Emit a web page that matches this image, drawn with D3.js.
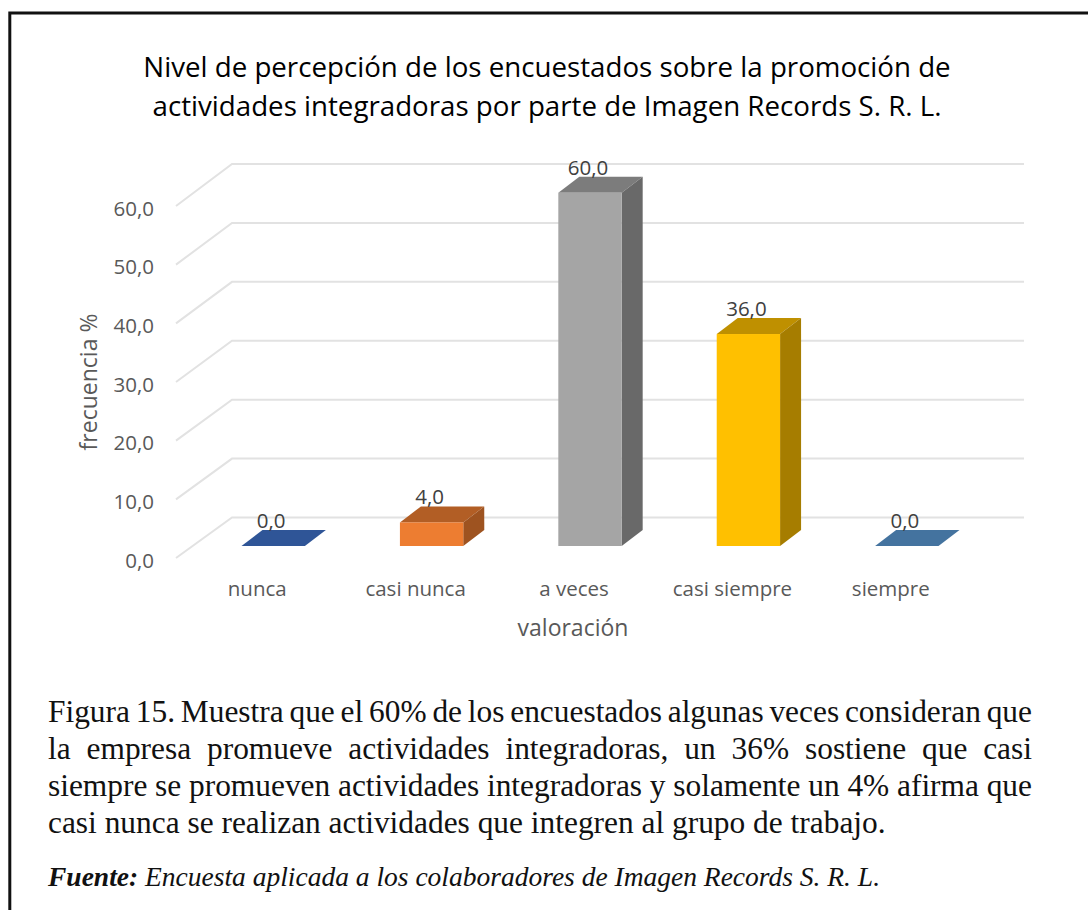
<!DOCTYPE html>
<html>
<head>
<meta charset="utf-8">
<script src="https://cdn.jsdelivr.net/npm/d3@7"></script>
<style>
  html, body { margin: 0; padding: 0; background: #fff; overflow: hidden; }
  .axis path, .axis line { display: none; }
</style>
</head>
<body>
<div id="chart"></div>
<script>
var categories = ["nunca", "casi nunca", "a veces", "casi siempre", "siempre"];
var values = [0, 4, 60, 36, 0];
var yTicks = [0, 10, 20, 30, 40, 50, 60];
var frontColors = ["#2f5597", "#ed7d31", "#a5a5a5", "#ffc000", "#44739f"];
var topColors = ["#2f5597", "#b25e25", "#7c7c7c", "#bf9000", "#44739f"];
var sideColors = ["#264478", "#9e5320", "#696969", "#a67d00", "#3a6288"];
var titleLines = [
  "Nivel de percepción de los encuestados sobre la promoción de",
  "actividades integradoras por parte de Imagen Records S. R. L."
];
var captionLines = [
  "Figura 15. Muestra que el 60% de los encuestados algunas veces consideran que",
  "la empresa promueve actividades integradoras, un 36% sostiene que casi",
  "siempre se promueven actividades integradoras y solamente un 4% afirma que",
  "casi nunca se realizan actividades que integren al grupo de trabajo."
];
var fuenteLabel = "Fuente:";
var fuenteText = " Encuesta aplicada a los colaboradores de Imagen Records S. R. L.";

var chartFont = "'Open Sans', sans-serif";
var serifFont = "'Liberation Serif', serif";
var width = 1088, height = 910;

// 3d offset of the columns
var depthX = 21, depthY = -16;

var svg = d3.select("#chart")
  .append("svg")
    .attr("width", width)
    .attr("height", height)
    .style("display", "block");

// outer frame
svg.append("path")
  .attr("d", "M9.8," + height + "V13H" + width)
  .attr("fill", "none")
  .attr("stroke", "#111")
  .attr("stroke-width", 3);

// scales: one y for the column plane, one for the back wall, one for the wall front edge
var x = d3.scaleBand()
  .domain(categories)
  .range([194, 986])
  .paddingInner(0.6)
  .paddingOuter(0.3);

var xLabel = d3.scaleBand()
  .domain(categories)
  .range([178, 970]);

var y = d3.scaleLinear().domain([0, 60]).range([546, 192.7]);
var yBack = d3.scaleLinear().domain([0, 60]).range([517.5, 164]);
var yWall = d3.scaleLinear().domain([0, 60]).range([558, 206]);

// gridlines
svg.append("g")
  .selectAll("path")
  .data(yTicks)
  .enter()
  .append("path")
    .attr("d", function(d) {
      return "M176," + yWall(d) + "L232," + yBack(d) + "H1024";
    })
    .attr("fill", "none")
    .attr("stroke", "#e2e2e2")
    .attr("stroke-width", 2);

// y axis
var yAxis = svg.append("g")
  .attr("class", "axis")
  .attr("transform", "translate(154,2.5)")
  .call(d3.axisLeft(yWall).tickValues(yTicks).tickSize(0).tickPadding(0)
    .tickFormat(function(d) { return d.toFixed(1).replace(".", ","); }));
yAxis.selectAll("text")
  .style("font-family", chartFont)
  .style("font-size", "20.5px")
  .attr("fill", "#595959");

// x axis
var xAxis = svg.append("g")
  .attr("class", "axis")
  .attr("transform", "translate(0,581.5)")
  .call(d3.axisBottom(xLabel).tickSize(0).tickPadding(0));
xAxis.selectAll("text")
  .style("font-family", chartFont)
  .style("font-size", "20.5px")
  .attr("fill", "#595959");

// columns
var bars = svg.append("g")
  .selectAll("g")
  .data(categories)
  .enter()
  .append("g");

function val(i) { return values[i]; }

bars.append("path")
  .attr("d", function(d, i) {
    var x0 = x(d), x1 = x0 + x.bandwidth(), t = y(val(i));
    return "M" + x0 + "," + t + "L" + (x0 + depthX) + "," + (t + depthY) +
      "H" + (x1 + depthX) + "L" + x1 + "," + t + "Z";
  })
  .attr("fill", function(d, i) { return topColors[i]; });

bars.append("path")
  .attr("d", function(d, i) {
    var x1 = x(d) + x.bandwidth(), t = y(val(i)), b = y(0);
    return "M" + x1 + "," + t + "L" + (x1 + depthX) + "," + (t + depthY) +
      "V" + (b + depthY) + "L" + x1 + "," + b + "Z";
  })
  .attr("fill", function(d, i) { return sideColors[i]; });

bars.append("rect")
  .attr("x", function(d) { return x(d); })
  .attr("y", function(d, i) { return y(val(i)); })
  .attr("width", x.bandwidth())
  .attr("height", function(d, i) { return y(0) - y(val(i)); })
  .attr("fill", function(d, i) { return frontColors[i]; });

// value labels
bars.append("text")
  .attr("x", function(d) { return x(d) + x.bandwidth() / 2 - 2; })
  .attr("y", function(d, i) { return y(val(i)) - 18; })
  .attr("text-anchor", "middle")
  .style("font-family", chartFont)
  .style("font-size", "20.5px")
  .attr("fill", "#404040")
  .text(function(d, i) { return val(i).toFixed(1).replace(".", ","); });

// axis titles
svg.append("text")
  .attr("x", 573)
  .attr("y", 636)
  .attr("text-anchor", "middle")
  .style("font-family", chartFont)
  .style("font-size", "23px")
  .attr("fill", "#595959")
  .text("valoración");

svg.append("text")
  .attr("transform", "translate(97,382) rotate(-90)")
  .attr("text-anchor", "middle")
  .style("font-family", chartFont)
  .style("font-size", "23px")
  .attr("fill", "#595959")
  .text("frecuencia %");

// chart title
svg.append("g")
  .selectAll("text")
  .data(titleLines)
  .enter()
  .append("text")
    .attr("x", 547)
    .attr("y", function(d, i) { return 77 + i * 39; })
    .attr("text-anchor", "middle")
    .style("font-family", chartFont)
    .style("font-size", "27.7px")
    .attr("fill", "#000")
    .text(function(d) { return d; });

// caption, first three lines justified to the same right edge
var captionLeft = 48, captionRight = 1032;
svg.append("g")
  .selectAll("text")
  .data(captionLines)
  .enter()
  .append("text")
    .attr("x", captionLeft)
    .attr("y", function(d, i) { return 722 + i * 37; })
    .style("font-family", serifFont)
    .style("font-size", "31.4px")
    .attr("fill", "#111")
    .text(function(d) { return d; })
    .each(function(d, i) {
      if (i === captionLines.length - 1) return;
      var gaps = d.split(" ").length - 1;
      var extra = (captionRight - captionLeft - this.getComputedTextLength()) / gaps;
      d3.select(this).style("word-spacing", extra + "px");
    });

var fuente = svg.append("text")
  .attr("x", 48)
  .attr("y", 886)
  .style("font-family", serifFont)
  .style("font-size", "27.5px")
  .style("font-style", "italic")
  .attr("fill", "#111");
fuente.append("tspan").style("font-weight", "bold").text(fuenteLabel);
fuente.append("tspan").text(fuenteText);
</script>
</body>
</html>
